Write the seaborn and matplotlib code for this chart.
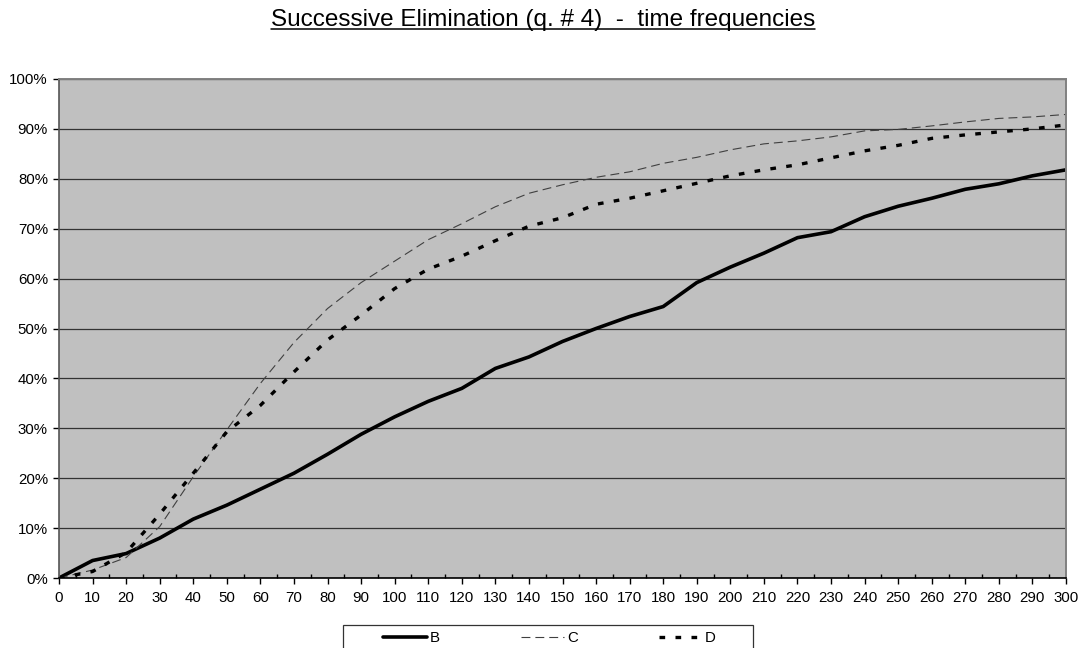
import numpy as np
import pandas as pd
import seaborn as sns
import matplotlib.pyplot as plt
from matplotlib.ticker import MultipleLocator, PercentFormatter
from matplotlib.lines import Line2D
from matplotlib.patches import Rectangle

# time (x) and cumulative frequencies (%) per question type
minutes = [0, 10, 20, 30, 40, 50, 60, 70, 80, 90, 100, 110, 120, 130, 140, 150,
           160, 170, 180, 190, 200, 210, 220, 230, 240, 250, 260, 270, 280, 290, 300]
freq_b = [0, 3.5, 4.9, 8.0, 11.8, 14.6, 17.8, 21.0, 24.8, 28.8, 32.3, 35.4, 38.0, 42.0, 44.3, 47.4,
          50.0, 52.4, 54.4, 59.2, 62.3, 65.1, 68.2, 69.4, 72.4, 74.5, 76.1, 77.9, 79.0, 80.6, 81.8]
freq_c = [0, 1.6, 4.1, 10.3, 20.3, 29.7, 39.0, 47.2, 54.0, 59.2, 63.5, 67.8, 71.0, 74.4, 77.1, 78.8,
          80.3, 81.4, 83.1, 84.3, 85.8, 87.0, 87.6, 88.4, 89.6, 89.9, 90.6, 91.4, 92.1, 92.4, 92.9]
freq_d = [0, 1.3, 5.1, 12.8, 21.0, 29.3, 34.6, 41.3, 47.7, 52.7, 58.0, 61.9, 64.5, 67.6, 70.5, 72.2,
          74.9, 76.1, 77.6, 79.1, 80.6, 81.8, 82.8, 84.2, 85.6, 86.7, 88.1, 88.8, 89.4, 90.0, 90.8]
series_names = ["B", "C", "D"]
title = "Successive Elimination (q. # 4)  -  time frequencies"

sns.set_style("white", {"text.color": "black", "xtick.color": "black", "ytick.color": "black"})
plt.rcParams['font.family'] = ['Liberation Sans', 'DejaVu Sans']

df = pd.DataFrame({"minutes": minutes, "B": freq_b, "C": freq_c, "D": freq_d})

fig = plt.figure(figsize=(10.84, 6.48), dpi=100)
ax = fig.add_axes([59 / 1084, 1 - 578 / 648, 1007 / 1084, 499 / 648])
ax.set_facecolor("#c0c0c0")

styles = {
    "B": dict(color="black", linewidth=2.6, linestyle="-"),
    "C": dict(color="#404040", linewidth=0.8, linestyle=(0, (8, 4.5))),
    "D": dict(color="black", linewidth=2.4, linestyle=(0, (1.7, 3.1))),
}
for name in series_names:
    sns.lineplot(data=df, x="minutes", y=name, ax=ax, label=name,
                 solid_capstyle="butt", dash_capstyle="butt", **styles[name])
ax.get_legend().remove()

ax.set_xlim(0, 300)
ax.set_ylim(0, 100)
ax.xaxis.set_major_locator(MultipleLocator(10))
ax.xaxis.set_minor_locator(MultipleLocator(5))
ax.yaxis.set_major_locator(MultipleLocator(10))
ax.yaxis.set_major_formatter(PercentFormatter(100, decimals=0))
ax.set_xlabel("")
ax.set_ylabel("")

ax.grid(axis="y", color="#333333", linewidth=0.9)
ax.set_axisbelow(True)
ax.tick_params(axis="x", which="major", direction="out", length=4, width=1, color="black",
               labelcolor="black", labelsize=10.8, pad=5, bottom=True)
ax.tick_params(axis="x", which="minor", direction="in", length=3, width=1, color="black", bottom=True)
ax.tick_params(axis="y", which="major", direction="out", length=4, width=1, color="black",
               labelcolor="black", labelsize=10.8, pad=4, left=True)

for side in ["top", "right"]:
    ax.spines[side].set_color("#808080")
    ax.spines[side].set_linewidth(1.4)
ax.spines["left"].set_color("#555555")
ax.spines["left"].set_linewidth(1.2)
ax.spines["bottom"].set_color("black")
ax.spines["bottom"].set_linewidth(1.2)

# title with underline
t = fig.text(543 / 1084, 1 - 26 / 648, title, ha="center", va="baseline", fontsize=17.5,
             color="black")
fig.canvas.draw()
bb = t.get_window_extent()
fig.add_artist(Line2D([bb.x0, bb.x1], [648 - 28.5, 648 - 28.5], color="black", linewidth=1.1,
                      transform=None))

# legend (box partially cut by the figure edge)
handles = [Line2D([], [], **styles[n]) for n in series_names]
fig.legend(handles, series_names, loc="center left", bbox_to_anchor=(383 / 1084, 1 - 638 / 648),
           ncol=3, frameon=False, fontsize=10.8, handlelength=2.9, handletextpad=0.2,
           columnspacing=5.4, borderpad=0, borderaxespad=0, labelcolor="black")
fig.add_artist(Rectangle((343 / 1084, -0.05), 410 / 1084, 0.05 + 1 - 625 / 648,
                         transform=fig.transFigure, fill=False, edgecolor="#333333", linewidth=0.9))

fig.savefig("out.png", dpi=100)
